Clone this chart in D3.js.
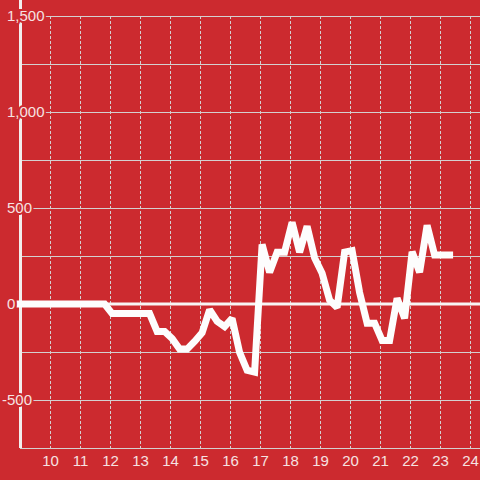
<!DOCTYPE html>
<html>
<head>
<meta charset="utf-8">
<script src="https://cdn.jsdelivr.net/npm/d3@7"></script>
<style>
  html, body { margin: 0; padding: 0; background: #cc2a2f; }
  svg { display: block; }
</style>
</head>
<body>
<svg id="chart" width="480" height="480"></svg>
<script>
// ---- data ----
const hours = [9.0, 11.82, 12.07, 13.32, 13.57, 13.82, 14.07, 14.32, 14.57, 14.82, 15.07, 15.32, 15.57, 15.82,
  16.07, 16.32, 16.57, 16.82, 17.07, 17.32, 17.57, 17.82, 18.07, 18.32, 18.57, 18.82,
  19.07, 19.32, 19.57, 19.82, 20.07, 20.32, 20.57, 20.82, 21.07, 21.32, 21.57, 21.82,
  22.07, 22.32, 22.57, 22.82, 23.07, 23.32];
const values = [0, 0, -50, -50, -143, -143, -180, -235, -235, -195, -150, -30, -90, -118,
  -75, -252, -345, -355, 310, 165, 270, 270, 425, 270, 405, 240,
  160, 20, -18, 270, 278, 60, -100, -100, -190, -190, 30, -75,
  272, 165, 410, 255, 255, 255];
const xTicks = [10, 11, 12, 13, 14, 15, 16, 17, 18, 19, 20, 21, 22, 23, 24];
const yGridValues = [-750, -500, -250, 0, 250, 500, 750, 1000, 1250, 1500];
const yLabelValues = [-500, 0, 500, 1000, 1500];

// ---- layout ----
const W = 480, H = 480;
const mLeft = 20, mRight = 480, mTop = 16, mBottom = 448;
const bg = "#cc2a2f", textColor = "#f6e2e2", gridColor = "#d4d0d0";

const svg = d3.select("#chart");
svg.append("rect").attr("width", W).attr("height", H).attr("fill", bg);

const x = d3.scaleLinear().domain([9, 24.3333]).range([mLeft, mRight]);
const y = d3.scaleLinear().domain([-750, 1500]).range([mBottom, mTop]);

// horizontal gridlines
svg.append("g").selectAll("line")
  .data(yGridValues.filter(v => v !== 0))
  .join("line")
  .attr("x1", mLeft).attr("x2", mRight)
  .attr("y1", d => Math.round(y(d)) + 0.5).attr("y2", d => Math.round(y(d)) + 0.5)
  .attr("stroke", gridColor).attr("stroke-width", 1);

// vertical dotted gridlines
svg.append("g").selectAll("line")
  .data(xTicks)
  .join("line")
  .attr("x1", d => Math.round(x(d)) + 0.5).attr("x2", d => Math.round(x(d)) + 0.5)
  .attr("y1", mTop).attr("y2", mBottom)
  .attr("stroke", gridColor).attr("stroke-width", 1)
  .attr("stroke-dasharray", "3,2");

// zero line
svg.append("line")
  .attr("x1", mLeft).attr("x2", mRight)
  .attr("y1", y(0)).attr("y2", y(0))
  .attr("stroke", "#f8f4f4").attr("stroke-width", 3);

// y axis line
svg.append("line")
  .attr("x1", mLeft + 0.5).attr("x2", mLeft + 0.5)
  .attr("y1", 0).attr("y2", mBottom)
  .attr("stroke", "#f2eeee").attr("stroke-width", 3);

// data line
const line = d3.line().x((d, i) => x(hours[i])).y(d => y(d));
svg.append("path")
  .attr("d", line(values))
  .attr("fill", "none")
  .attr("stroke", "#fdfdfd")
  .attr("stroke-width", 7)
  .attr("stroke-linejoin", "miter")
  .attr("stroke-miterlimit", 2)
  .attr("stroke-linecap", "square");

// y labels with halo
const fmt = d3.format(",");
svg.append("g").selectAll("text")
  .data(yLabelValues)
  .join("text")
  .attr("x", 7)
  .attr("dx", d => d < 0 ? -5 : 0)
  .attr("y", d => y(d))
  .attr("dy", "0.36em")
  .attr("text-anchor", "start")
  .attr("font-family", "'Liberation Sans', Arial, sans-serif")
  .attr("font-size", 15)
  .attr("fill", textColor)
  .attr("stroke", bg).attr("stroke-width", 4)
  .attr("paint-order", "stroke")
  .text(d => d < 0 ? "-" + fmt(-d) : fmt(d));

// x labels
svg.append("g").selectAll("text")
  .data(xTicks)
  .join("text")
  .attr("x", d => x(d) + 0.5)
  .attr("y", 466)
  .attr("text-anchor", "middle")
  .attr("font-family", "'Liberation Sans', Arial, sans-serif")
  .attr("font-size", 15)
  .attr("fill", textColor)
  .text(d => d);
</script>
</body>
</html>
